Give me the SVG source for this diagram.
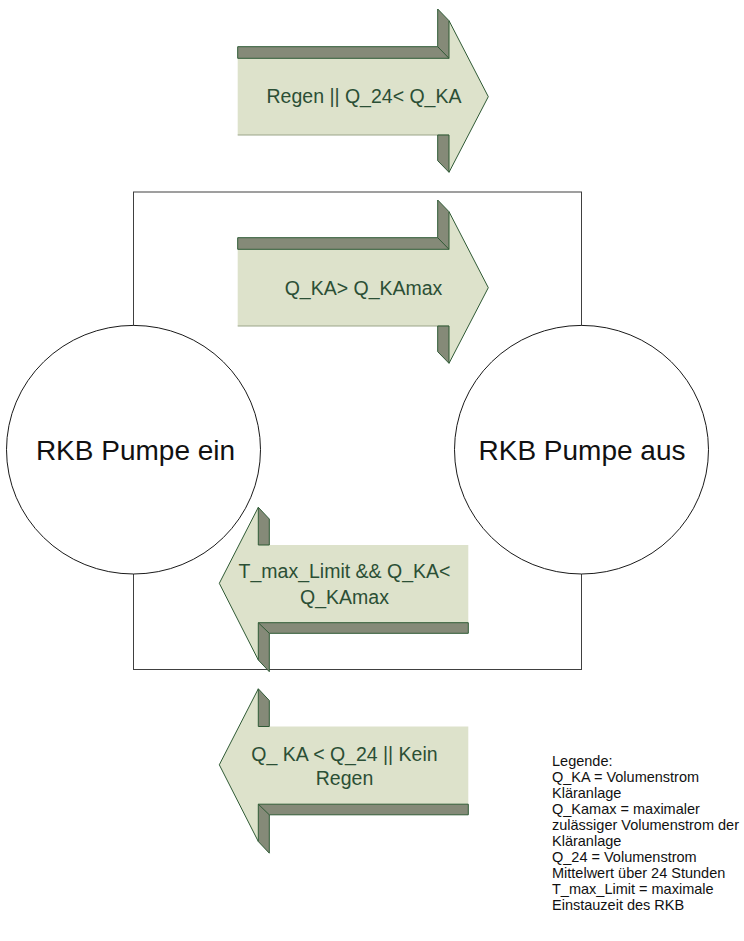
<svg xmlns="http://www.w3.org/2000/svg" width="744" height="941" viewBox="0 0 744 941">
<defs>
<style>
.front{fill:#dde2cb;stroke:none}
.edge{fill:none;stroke:#2f5a35;stroke-width:1}
.base{fill:none;stroke:#9aa588;stroke-width:1}
.shade{fill:#858a78;stroke:#2f5a35;stroke-width:1;stroke-linejoin:miter}
.lbl{font-family:"Liberation Sans",Arial,sans-serif;font-size:19.5px;fill:#2b4f35;text-anchor:middle}
.state{fill:#ffffff;stroke:#1a1a1a;stroke-width:1}
.stxt{font-family:"Liberation Sans",Arial,sans-serif;font-size:28px;fill:#111111;text-anchor:middle}
.leg{font-family:"Liberation Sans",Arial,sans-serif;font-size:14.5px;fill:#111111}
</style>
<g id="rArrow">
<polygon class="front" points="237.7,249.3 449,249.3 449,211.7 488.3,287.7 449,363.3 449,326 237.7,326"/>
<line class="base" x1="237.7" y1="326" x2="449" y2="326"/>
<polyline class="edge" points="449,211.7 488.3,287.7 449,363.3"/>
<polygon class="shade" points="237.7,237.7 437.7,237.7 437.7,200 449,211.7 449,249.3 237.7,249.3"/>
<line class="edge" x1="437.7" y1="237.7" x2="449" y2="249.3"/>
<polygon class="shade" points="437.7,326 449,326 449,363.3 437.7,351.7"/>
</g>
<g id="lArrow">
<polygon class="front" points="468.3,545 258.3,545 258.3,507.3 219.3,583.3 258.3,660 258.3,622.7 468.3,622.7"/>
<polyline class="edge" points="258.3,507.3 219.3,583.3 258.3,660"/>
<polygon class="shade" points="258.3,507.3 269.3,519 269.3,545 258.3,545"/>
<polygon class="shade" points="258.3,622.7 468.3,622.7 468.3,633.3 269.3,633.3 269.3,671.7 258.3,660"/>
<line class="edge" x1="258.3" y1="622.7" x2="269.3" y2="633.3"/>
</g>
</defs>

<g id="connectors">
<rect x="133.5" y="192" width="448" height="477.5" fill="none" stroke="#404040" stroke-width="1"/>
</g>

<g id="node-ein">
<ellipse class="state" cx="133.5" cy="449.7" rx="127" ry="124.3"/>
<text class="stxt" x="135.5" y="460">RKB Pumpe ein</text>
</g>

<g id="node-aus">
<ellipse class="state" cx="581.5" cy="449.7" rx="127" ry="124.3"/>
<text class="stxt" x="582" y="460">RKB Pumpe aus</text>
</g>

<g id="arrow-regen">
<use href="#rArrow" transform="translate(0,-191)"/>
<text class="lbl" x="364" y="103.3">Regen || Q_24&lt; Q_KA</text>
</g>

<g id="arrow-qka-gt">
<use href="#rArrow"/>
<text class="lbl" x="363.5" y="295">Q_KA&gt; Q_KAmax</text>
</g>

<g id="arrow-tmax">
<use href="#lArrow"/>
<text class="lbl" x="344.5" y="578">T_max_Limit &amp;&amp; Q_KA&lt;</text>
<text class="lbl" x="344.5" y="603.5">Q_KAmax</text>
</g>

<g id="arrow-kein-regen">
<use href="#lArrow" transform="translate(0,181.5)"/>
<text class="lbl" x="344.5" y="760.5">Q_ KA &lt; Q_24 || Kein</text>
<text class="lbl" x="344.5" y="785">Regen</text>
</g>

<g id="legend">
<text class="leg" x="552" y="765.5">Legende:</text>
<text class="leg" x="552" y="781.5">Q_KA = Volumenstrom</text>
<text class="leg" x="552" y="797.5">Kläranlage</text>
<text class="leg" x="552" y="813.5">Q_Kamax = maximaler</text>
<text class="leg" x="552" y="829.5">zulässiger Volumenstrom der</text>
<text class="leg" x="552" y="845.5">Kläranlage</text>
<text class="leg" x="552" y="861.5">Q_24 = Volumenstrom</text>
<text class="leg" x="552" y="877.5">Mittelwert über 24 Stunden</text>
<text class="leg" x="552" y="893.5">T_max_Limit = maximale</text>
<text class="leg" x="552" y="909.5">Einstauzeit des RKB</text>
</g>
</svg>
